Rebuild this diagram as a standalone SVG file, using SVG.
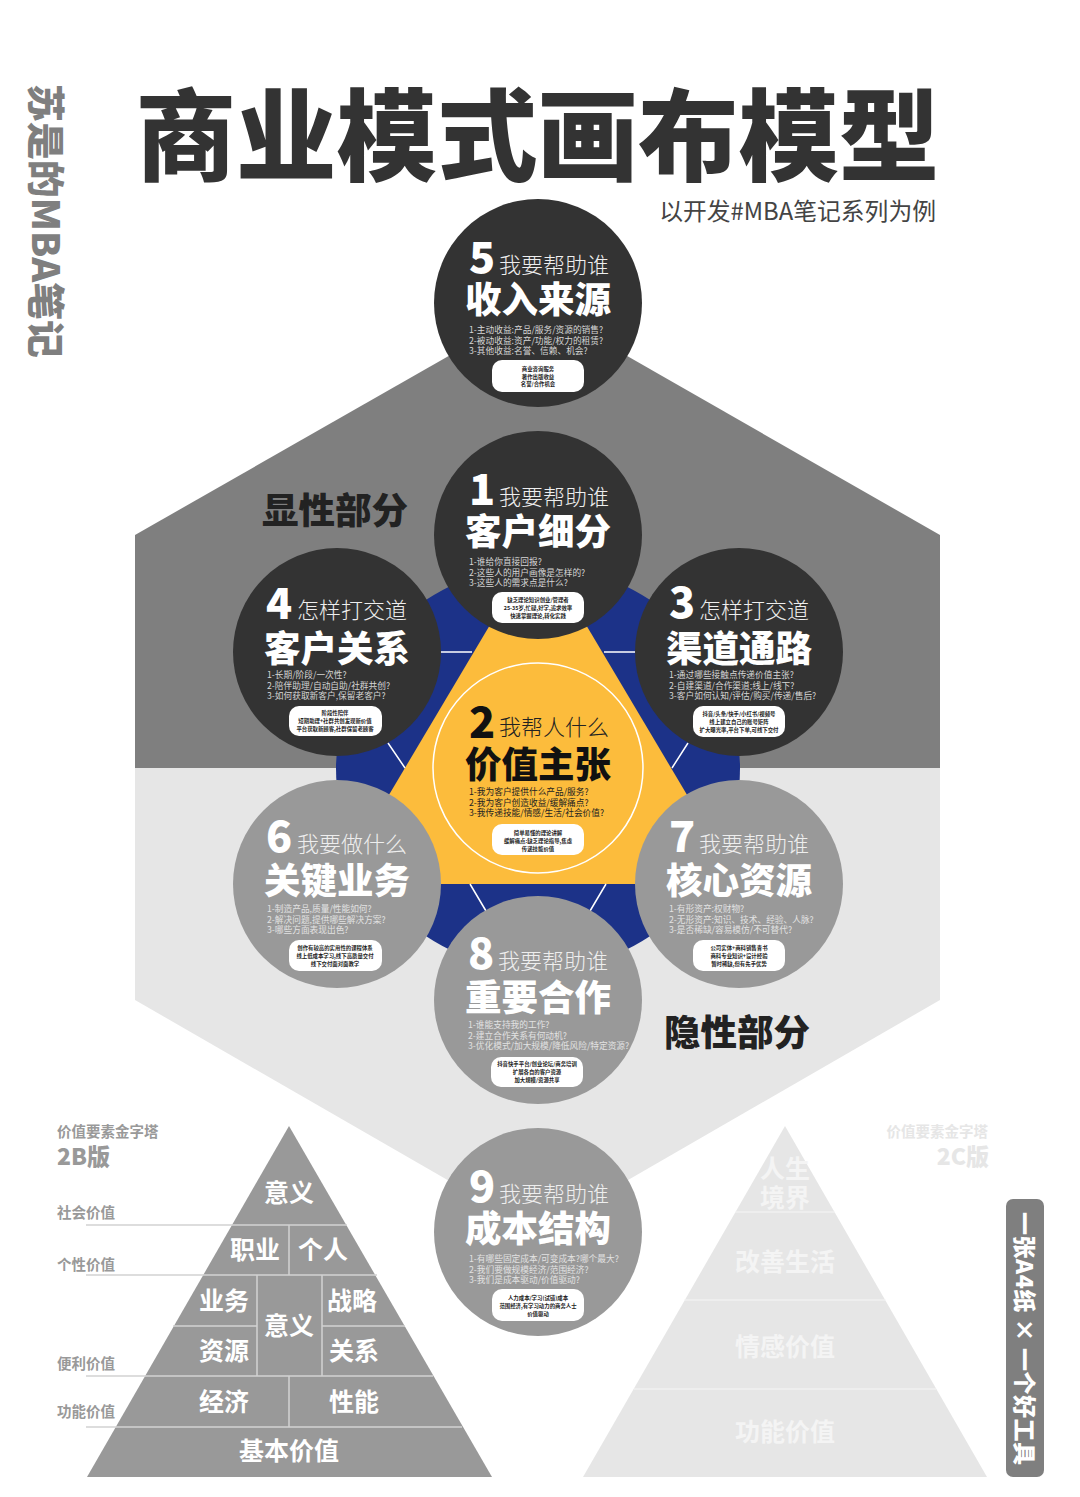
<svg xmlns="http://www.w3.org/2000/svg" width="1080" height="1497" viewBox="0 0 1080 1497">
<style>
text{font-family:"Noto Sans CJK SC","Noto Sans",sans-serif}
.dk{fill:#333}.gr{fill:#999}
.num{font-size:43px;font-weight:900;fill:#fff}
.sub{font-size:22px;font-weight:300;fill:#eee}
.ttl{font-size:36.500px;font-weight:900;fill:#fff}
.ln{font-size:8.7px;fill:#d6d6d6}
.lg{font-size:8.7px;fill:#e2e2e2}
.box{fill:#fff}
.bt{font-size:5.4px;font-weight:700;fill:#222;text-anchor:middle}
.blk{fill:#111}
.ln2{font-size:8.7px;fill:#222}
.sec{font-size:36.500px;font-weight:900;fill:#222}
.py{font-size:25px;font-weight:700;fill:#fff;text-anchor:middle}
.pw{font-size:25px;font-weight:700;fill:#f4f4f4;text-anchor:middle}
.lb{font-size:14.5px;font-weight:700;fill:#999}
.lbb{font-size:23px;font-weight:900;fill:#999}
.pl{stroke:#d2d2d2;stroke-width:1.5;fill:none}
.pw2{stroke:#f6f6f6;stroke-width:1.2;fill:none}
.sp{stroke:#fff;stroke-width:1.5;fill:none}
</style>
<rect width="1080" height="1497" fill="#fff"/>
<g id="background">
<polygon points="538,305 940,535 940,768 135,768 135,535" fill="#7f7f7f"/>
<polygon points="135,768 940,768 940,1000 538,1232 135,1000" fill="#e6e6e6"/>
<circle cx="538" cy="768" r="202" fill="#1c3288"/>
<polygon points="538,544 336,884 740,884" fill="#fcbc3c"/>
</g>
<g id="header">
<text x="135.500" y="172.500" fill="#333" style="font-size:100.500px;font-weight:900">商业模式画布模型</text>
<text x="936" y="220" text-anchor="end" style="font-size:23.800px" fill="#444">以开发#MBA笔记系列为例</text>
<text transform="translate(32,84) rotate(90)" style="font-size:38px;font-weight:900" fill="#7f7f7f" textLength="274" lengthAdjust="spacingAndGlyphs">苏是的MBA笔记</text>
</g>
<text class="sec" x="262" y="524">显性部分</text>
<text class="sec" x="664" y="1046">隐性部分</text>
<g id="connectors">
<path class="sp" d="M440 652H472M604 652H636M388 743L405 768M688 743L672 768M470 884L486 911M606 884L590 911"/>
<circle class="sp" cx="538" cy="768" r="105"/>
</g>
<g id="node-5">
<circle class="dk" cx="538" cy="303" r="104"/>
<text class="num" x="469" y="273">5</text><text class="sub" x="499" y="273">我要帮助谁</text><text class="ttl" x="465" y="313">收入来源</text>
<text class="ln" x="469" y="333">1-主动收益:产品/服务/资源的销售?</text><text class="ln" x="469" y="344">2-被动收益:资产/功能/权力的租赁?</text><text class="ln" x="469" y="354">3-其他收益:名誉、信赖、机会?</text>
<rect class="box" x="492" y="360" width="92" height="32" rx="10"/>
<text class="bt" x="538" y="371">商业咨询服务</text><text class="bt" x="538" y="378.5">著作出版收益</text><text class="bt" x="538" y="386">名誉/合作机会</text>
</g>
<g id="node-1">
<circle class="dk" cx="538" cy="535" r="104"/>
<text class="num" x="469" y="505">1</text><text class="sub" x="499" y="505">我要帮助谁</text><text class="ttl" x="465" y="545">客户细分</text>
<text class="ln" x="469" y="565">1-谁给你直接回报?</text><text class="ln" x="469" y="576">2-这些人的用户画像是怎样的?</text><text class="ln" x="469" y="586">3-这些人的需求点是什么?</text>
<rect class="box" x="492" y="592" width="92" height="31" rx="10"/>
<text class="bt" x="538" y="602">缺乏理论知识创业/管理者</text><text class="bt" x="538" y="610">25-35岁,忙碌,好学,追求效率</text><text class="bt" x="538" y="618">快速掌握理论,转化实践</text>
</g>
<g id="node-4">
<circle class="dk" cx="337" cy="652" r="104"/>
<text class="num" x="266" y="619">4</text><text class="sub" x="297" y="618">怎样打交道</text><text class="ttl" x="264" y="662">客户关系</text>
<text class="ln" x="267" y="678">1-长期/阶段/一次性?</text><text class="ln" x="267" y="688.5">2-陪伴助理/自动自助/社群共创?</text><text class="ln" x="267" y="699">3-如何获取新客户,保留老客户?</text>
<rect class="box" x="289" y="706" width="93" height="30" rx="10"/>
<text class="bt" x="335" y="715">阶段性陪伴</text><text class="bt" x="335" y="723">短期助理+社群共创发现新价值</text><text class="bt" x="335" y="731">平台获取新顾客,社群保留老顾客</text>
</g>
<g id="node-3">
<circle class="dk" cx="739" cy="652" r="104"/>
<text class="num" x="669" y="618">3</text><text class="sub" x="699" y="618">怎样打交道</text><text class="ttl" x="666" y="662">渠道通路</text>
<text class="ln" x="669" y="678">1-通过哪些接触点传递价值主张?</text><text class="ln" x="669" y="688.5">2-自建渠道/合作渠道;线上/线下?</text><text class="ln" x="669" y="699">3-客户如何认知/评估/购买/传递/售后?</text>
<rect class="box" x="693" y="706" width="92" height="31" rx="10"/>
<text class="bt" x="739" y="716">抖音/头条/快手/小红书/视频号</text><text class="bt" x="739" y="723.5">线上建立自己的账号矩阵</text><text class="bt" x="739" y="731.5">扩大曝光率,平台下单,可线下交付</text>
</g>
<g id="node-2">
<text class="num blk" x="469" y="738">2</text><text class="sub blk" x="499" y="735" style="fill:#222">我帮人什么</text><text class="ttl blk" x="465" y="778">价值主张</text>
<text class="ln2" x="469" y="795">1-我为客户提供什么产品/服务?</text><text class="ln2" x="469" y="805.5">2-我为客户创造收益/缓解痛点?</text><text class="ln2" x="469" y="816">3-我传递技能/情感/生活/社会价值?</text>
<rect class="box" x="492" y="824" width="92" height="31" rx="10"/>
<text class="bt" x="538" y="835">简单易懂的理论讲解</text><text class="bt" x="538" y="843">缓解痛点:缺乏理论指导,焦虑</text><text class="bt" x="538" y="851">传递技能价值</text>
</g>
<g id="node-6">
<circle class="gr" cx="337" cy="884" r="104"/>
<text class="num" x="266" y="852">6</text><text class="sub" x="297" y="852">我要做什么</text><text class="ttl" x="264" y="894">关键业务</text>
<text class="lg" x="267" y="912">1-制造产品,质量/性能如何?</text><text class="lg" x="267" y="922.5">2-解决问题,提供哪些解决方案?</text><text class="lg" x="267" y="933">3-哪些方面表现出色?</text>
<rect class="box" x="289" y="940" width="93" height="31" rx="10"/>
<text class="bt" x="335" y="950">创作有较高的实用性的课程体系</text><text class="bt" x="335" y="958">线上低成本学习,线下高质量交付</text><text class="bt" x="335" y="966">线下交付面对面教学</text>
</g>
<g id="node-7">
<circle class="gr" cx="739" cy="884" r="104"/>
<text class="num" x="669" y="852">7</text><text class="sub" x="699" y="852">我要帮助谁</text><text class="ttl" x="666" y="894">核心资源</text>
<text class="lg" x="669" y="912">1-有形资产:权财物?</text><text class="lg" x="669" y="922.5">2-无形资产:知识、技术、经验、人脉?</text><text class="lg" x="669" y="933">3-是否稀缺/容易模仿/不可替代?</text>
<rect class="box" x="693" y="940" width="92" height="31" rx="10"/>
<text class="bt" x="739" y="950">公司实体+商科销售青书</text><text class="bt" x="739" y="958">商科专业知识+设计经验</text><text class="bt" x="739" y="966">暂时稀缺,但有先手优势</text>
</g>
<g id="node-8">
<circle class="gr" cx="538" cy="1000" r="104"/>
<text class="num" x="468" y="969">8</text><text class="sub" x="498" y="969">我要帮助谁</text><text class="ttl" x="465" y="1011">重要合作</text>
<text class="lg" x="468" y="1028">1-谁能支持我的工作?</text><text class="lg" x="468" y="1039">2-建立合作关系有何动机?</text><text class="lg" x="468" y="1049">3-优化模式/加大规模/降低风险/特定资源?</text>
<rect class="box" x="491" y="1057" width="92" height="30" rx="10"/>
<text class="bt" x="537" y="1066">抖音快手平台/创业论坛/商务培训</text><text class="bt" x="537" y="1074">扩展各自的客户资源</text><text class="bt" x="537" y="1082">加大规模/资源共享</text>
</g>
<g id="node-9">
<circle class="gr" cx="538" cy="1232" r="104"/>
<text class="num" x="469" y="1202">9</text><text class="sub" x="499" y="1202">我要帮助谁</text><text class="ttl" x="465" y="1242">成本结构</text>
<text class="lg" x="469" y="1262">1-有哪些固定成本/可变成本?哪个最大?</text><text class="lg" x="469" y="1272.5">2-我们要做规模经济/范围经济?</text><text class="lg" x="469" y="1283">3-我们是成本驱动/价值驱动?</text>
<rect class="box" x="492" y="1289" width="92" height="32" rx="10"/>
<text class="bt" x="538" y="1299.5">人力成本/学习(试错)成本</text><text class="bt" x="538" y="1308">范围经济,有学习动力的商务人士</text><text class="bt" x="538" y="1316">价值驱动</text>
</g>
<g id="pyramid-2b">
<polygon points="289,1126 87,1477 492,1477" fill="#999"/>
<path class="pl" d="M86 1225H347M86 1275H377M173 1326H257M322 1326H405M86 1376H433M86 1427H462M289 1225V1275M257 1275V1376M322 1275V1376M289 1376V1427"/>
<text class="lb" x="57" y="1137">价值要素金字塔</text><text class="lbb" x="57" y="1165">2B版</text>
<text class="lb" x="57" y="1218">社会价值</text><text class="lb" x="57" y="1270">个性价值</text><text class="lb" x="57" y="1369">便利价值</text><text class="lb" x="57" y="1417">功能价值</text>
<text class="py" x="289" y="1202">意义</text><text class="py" x="255" y="1259">职业</text><text class="py" x="323" y="1259">个人</text><text class="py" x="224" y="1310">业务</text><text class="py" x="352" y="1310">战略</text><text class="py" x="289" y="1335">意义</text><text class="py" x="224" y="1360">资源</text><text class="py" x="354" y="1360">关系</text><text class="py" x="224" y="1411">经济</text><text class="py" x="354" y="1411">性能</text><text class="py" x="289" y="1460">基本价值</text>
</g>
<g id="pyramid-2c">
<polygon points="785,1126 583,1477 987,1477" fill="#e6e6e6"/>
<path class="pw2" d="M735 1212H835M684 1300H886M634 1389H936"/>
<text class="pw" x="785" y="1178">人生</text><text class="pw" x="785" y="1207">境界</text><text class="pw" x="785" y="1271">改善生活</text><text class="pw" x="785" y="1356">情感价值</text><text class="pw" x="785" y="1441">功能价值</text>
<text x="988" y="1137" text-anchor="end" style="font-size:14.5px;font-weight:700" fill="#e6e6e6">价值要素金字塔</text>
<text x="989" y="1165" text-anchor="end" style="font-size:23px;font-weight:900" fill="#e6e6e6">2C版</text>
</g>
<g id="badge">
<rect x="1006" y="1199" width="38" height="278" rx="7" fill="#7f7f7f"/>
<text transform="translate(1016,1212) rotate(90)" style="font-size:23px;font-weight:900" fill="#fff" textLength="253" xml:space="preserve">一张A4纸 × 一个好工具</text>
</g>
</svg>
